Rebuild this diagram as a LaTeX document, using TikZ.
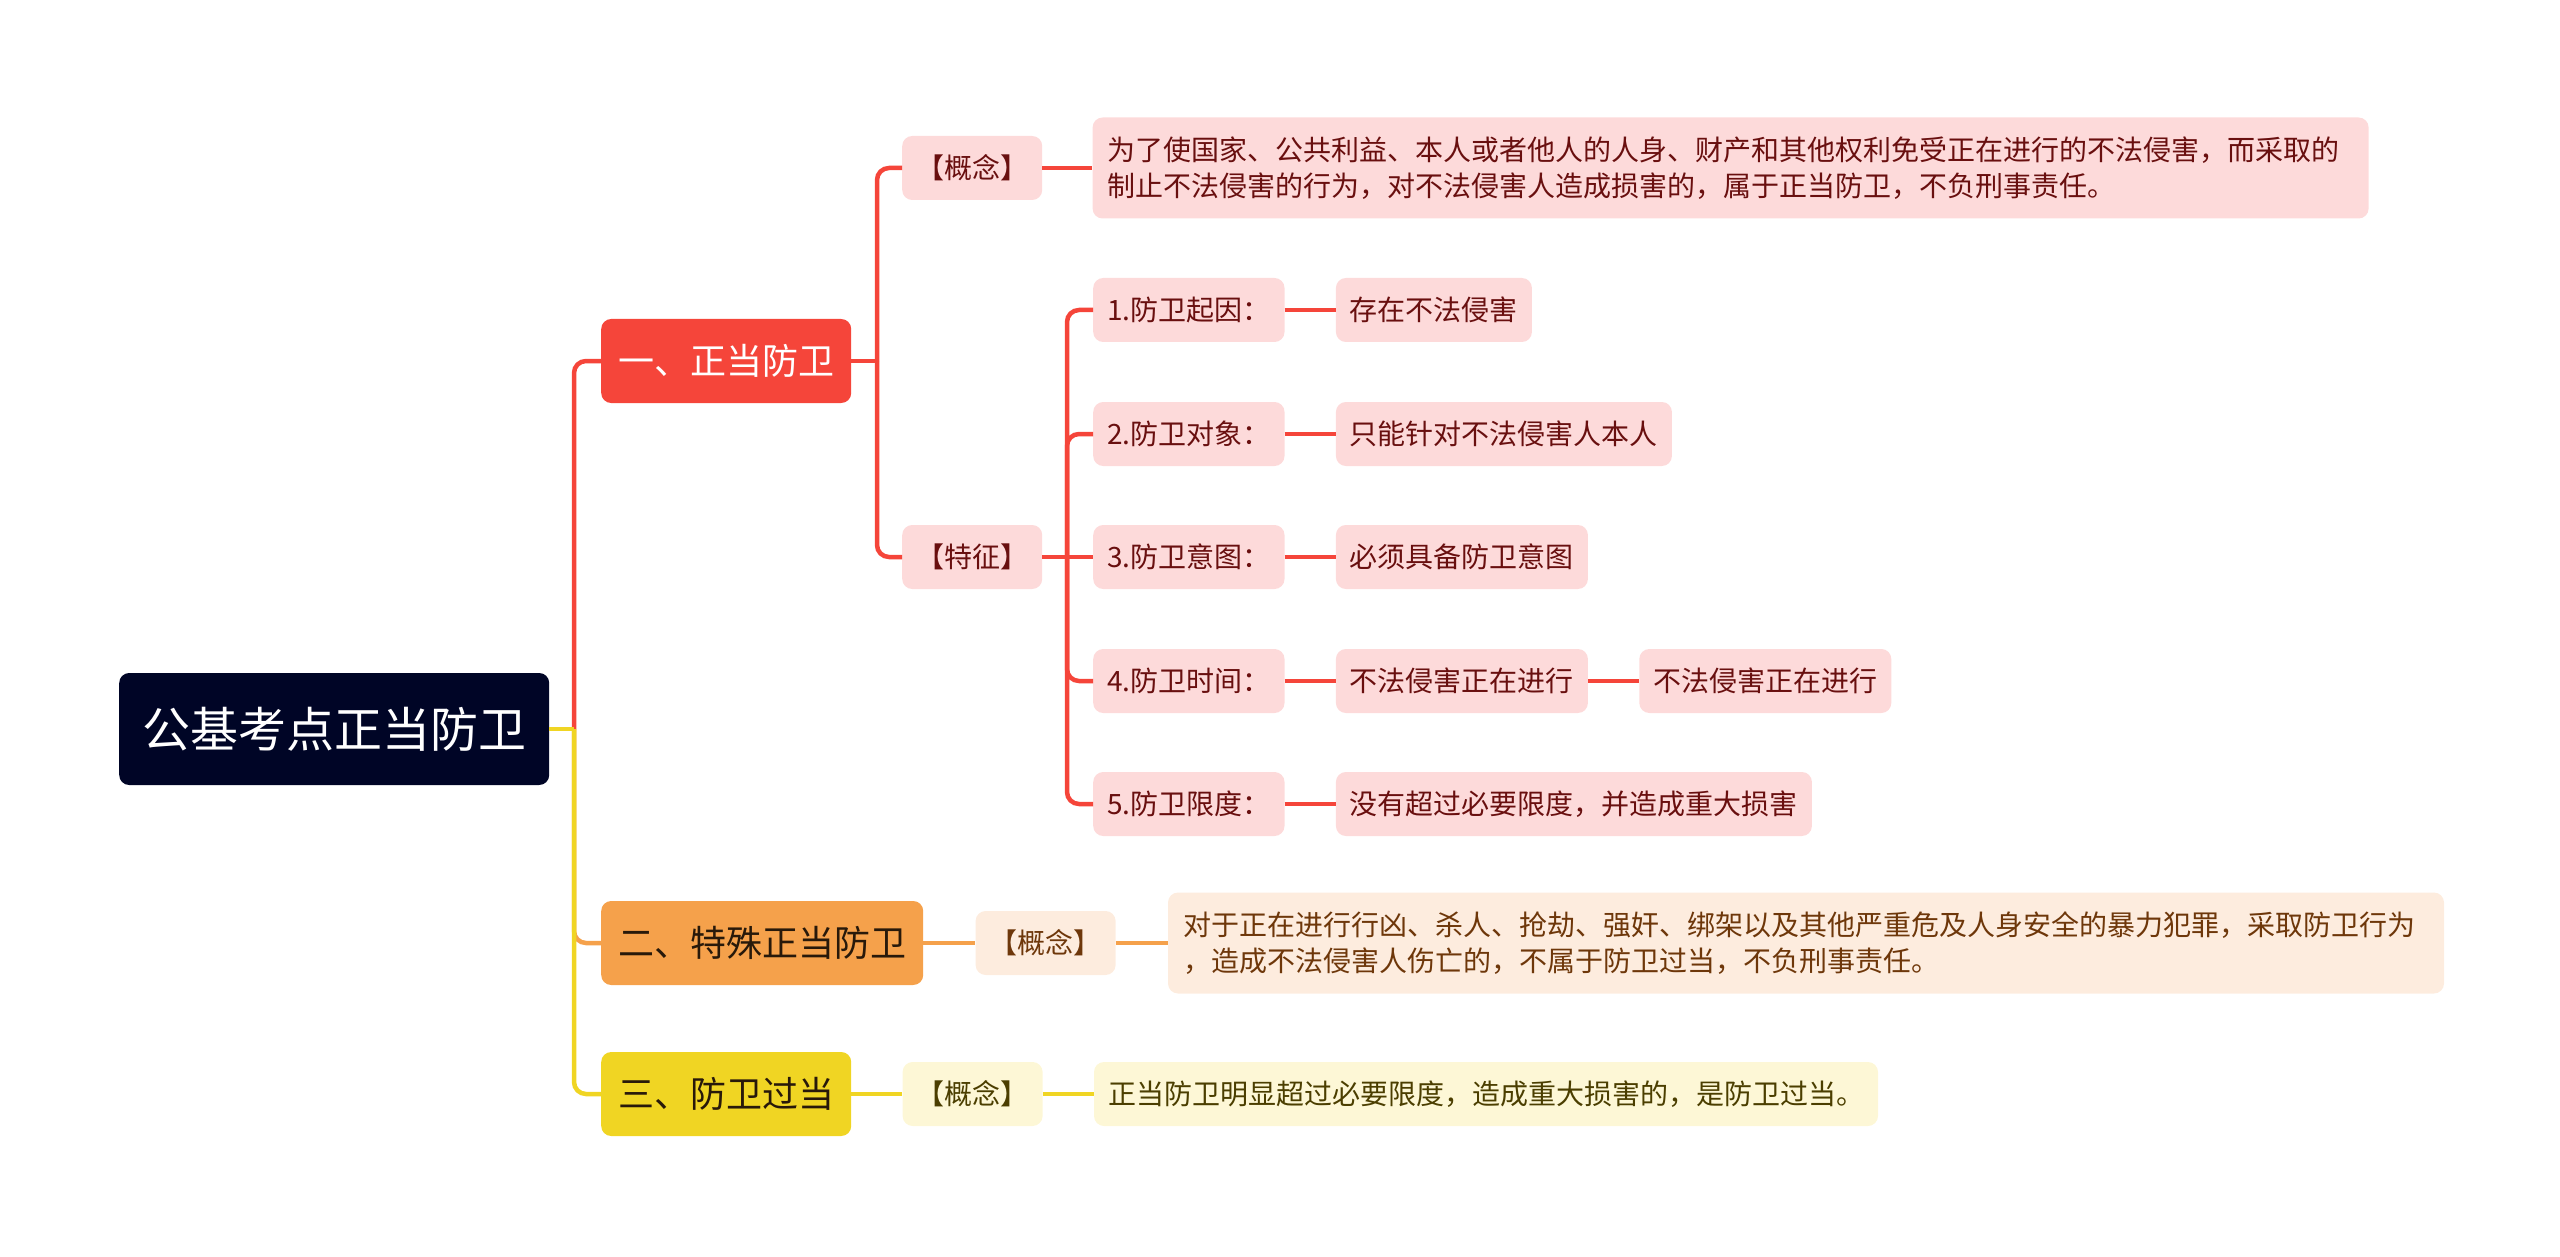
\documentclass[tikz,border=0pt]{standalone}
\usepackage{fontspec}
\newfontfamily\cjk{Noto Sans CJK SC}
\usepackage{xcolor}
\definecolor{RootNavy}{RGB}{0,5,38}
\definecolor{TopRed}{RGB}{245,69,58}
\definecolor{TopOrange}{RGB}{245,161,75}
\definecolor{TopYellow}{RGB}{240,213,35}
\definecolor{FillRed}{RGB}{253,218,218}
\definecolor{FillOrange}{RGB}{253,236,222}
\definecolor{FillYellow}{RGB}{253,247,214}
\definecolor{TextRed}{RGB}{105,15,15}
\definecolor{TextOrange}{RGB}{110,55,10}
\definecolor{TextYellow}{RGB}{75,62,0}
\definecolor{TextDark}{RGB}{40,25,10}
\usepackage{tikz}
\usetikzlibrary{positioning}
\tikzset{
  % Central topic
  rootbox/.style={
    rectangle, rounded corners=10pt,
    fill=RootNavy, text=white,
    minimum height=112pt, inner xsep=23pt, inner ysep=4pt,
    font={\cjk\fontsize{48}{56}\selectfont}
  },
  % Main branches
  topic/.style={
    rectangle, rounded corners=10pt,
    minimum height=84pt, inner xsep=17pt, inner ysep=4pt,
    font={\cjk\fontsize{36}{42}\selectfont}
  },
  topic red/.style={topic, fill=TopRed, text=white},
  topic orange/.style={topic, fill=TopOrange, text=TextDark},
  topic yellow/.style={topic, fill=TopYellow, text=TextDark},
  % Sub topics
  sub/.style={
    rectangle, rounded corners=10pt,
    minimum height=64pt, inner xsep=14pt, inner ysep=4pt,
    align=left,
    font={\cjk\fontsize{28}{36}\selectfont}
  },
  sub red/.style={sub, fill=FillRed, text=TextRed},
  sub orange/.style={sub, fill=FillOrange, text=TextOrange},
  sub yellow/.style={sub, fill=FillYellow, text=TextYellow},
  % Long texts
  note/.style={text width=1246pt, inner xsep=15pt, minimum height=101pt},
  % Connectors
  link/.style={line width=4.5pt, rounded corners=12pt},
}

\begin{document}
\begin{tikzpicture}[x=1pt, y=-1pt]
  \useasboundingbox (0,0) rectangle (2560,1257);

  %% Root
  \node[rootbox, anchor=west] (root) at (119,729) {公基考点正当防卫};

  %% Main branches
  \node[topic red, anchor=west]    (zd) at (601,361)  {一、正当防卫};
  \node[topic orange, anchor=west] (ts) at (601,943)  {二、特殊正当防卫};
  \node[topic yellow, anchor=west] (fg) at (601,1094) {三、防卫过当};

  %% Branch one
  \node[sub red, anchor=west] (gn1) at (902,168) {【概念】};
  \node[sub red, note, right=50pt of gn1] (def1)
    {为了使国家、公共利益、本人或者他人的人身、财产和其他权利免受正在进行的不法侵害，而采取的\\制止不法侵害的行为，对不法侵害人造成损害的，属于正当防卫，不负刑事责任。};
  \node[sub red, anchor=west] (tz) at (902,557) {【特征】};

  \node[sub red, anchor=west] (f1) at (1093,310) {1.防卫起因：};
  \node[sub red, anchor=west] (f2) at (1093,434) {2.防卫对象：};
  \node[sub red, anchor=west] (f3) at (1093,557) {3.防卫意图：};
  \node[sub red, anchor=west] (f4) at (1093,681) {4.防卫时间：};
  \node[sub red, anchor=west] (f5) at (1093,804) {5.防卫限度：};

  \node[sub red, right=51pt of f1] (f1r) {存在不法侵害};
  \node[sub red, right=51pt of f2] (f2r) {只能针对不法侵害人本人};
  \node[sub red, right=51pt of f3] (f3r) {必须具备防卫意图};
  \node[sub red, right=51pt of f4] (f4r) {不法侵害正在进行};
  \node[sub red, right=51pt of f4r] (f4rr) {不法侵害正在进行};
  \node[sub red, right=51pt of f5] (f5r) {没有超过必要限度，并造成重大损害};

  %% Branch two
  \node[sub orange, right=52pt of ts] (gn2) {【概念】};
  \node[sub orange, note, right=52pt of gn2] (def2)
    {对于正在进行行凶、杀人、抢劫、强奸、绑架以及其他严重危及人身安全的暴力犯罪，采取防卫行为\\，造成不法侵害人伤亡的，不属于防卫过当，不负刑事责任。};

  %% Branch three
  \node[sub yellow, right=51pt of fg] (gn3) {【概念】};
  \node[sub yellow, right=51pt of gn3] (def3) {正当防卫明显超过必要限度，造成重大损害的，是防卫过当。};

  %% Junctions
  \coordinate (jroot) at (574,729);
  \coordinate (jzd) at (877,361);
  \coordinate (jtz) at (1067,557);

  %% Root connectors
  \draw[link, TopRed] (jroot) |- (zd.west);
  \draw[link, TopOrange] (jroot) |- (ts.west);
  \draw[link, TopYellow] (jroot) |- (fg.west);
  \draw[link, TopYellow] (root.east) -- (jroot);

  %% Branch one connectors
  \draw[link, TopRed] (zd.east) -- (jzd);
  \draw[link, TopRed] (jzd) |- (gn1.west);
  \draw[link, TopRed] (jzd) |- (tz.west);
  \draw[link, TopRed] (gn1.east) -- (def1.west);
  \draw[link, TopRed] (tz.east) -- (f3.west);
  \foreach \f in {f1,f2,f4,f5}
    \draw[link, TopRed] (jtz) |- (\f.west);
  \foreach \f in {f1,f2,f3,f4,f5}
    \draw[link, TopRed] (\f.east) -- (\f r.west);
  \draw[link, TopRed] (f4r.east) -- (f4rr.west);

  %% Branch two and three connectors
  \draw[link, TopOrange] (ts.east) -- (gn2.west);
  \draw[link, TopOrange] (gn2.east) -- (def2.west);
  \draw[link, TopYellow] (fg.east) -- (gn3.west);
  \draw[link, TopYellow] (gn3.east) -- (def3.west);

\end{tikzpicture}
\end{document}
